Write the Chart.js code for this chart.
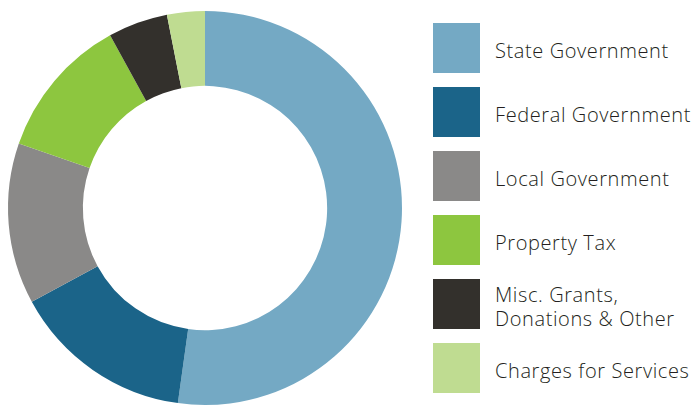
<!DOCTYPE html>
<html>
<head>
<meta charset="utf-8">
<script src="https://cdn.jsdelivr.net/npm/chart.js@4"></script>
<style>
  html, body { margin: 0; padding: 0; background: #fff; }
  #wrap { position: relative; width: 694px; height: 406px; }
  #chartBox { position: absolute; left: 0; top: 0; width: 410px; height: 406px; }
  #legend { position: absolute; left: 433px; top: 23px; font-family: "Open Sans", sans-serif; font-weight: 300; font-size: 20px; letter-spacing: 0.6px; color: #231f20; }
  .item { display: flex; align-items: center; height: 50px; margin-bottom: 14px; }
  .swatch { width: 47px; height: 50px; flex: none; }
  .label { margin-left: 15px; line-height: 24px; white-space: pre; position: relative; top: 3px; }
</style>
</head>
<body>
<div id="wrap">
  <div id="chartBox"><canvas id="revenueChart"></canvas></div>
  <div id="legend"></div>
</div>
<script>
  // Revenue sources, percent of total
  const labels = [
    "State Government",
    "Federal Government",
    "Local Government",
    "Property Tax",
    "Misc. Grants,\nDonations & Other",
    "Charges for Services"
  ];
  const values = [52.2, 14.9, 13.2, 11.7, 4.9, 3.1];
  const colors = ["#74a9c4", "#1b6489", "#8a8988", "#8dc63f", "#33302c", "#bfdc91"];

  // Build the legend from the same arrays
  const legendEl = document.getElementById("legend");
  labels.forEach(function (text, i) {
    const item = document.createElement("div");
    item.className = "item";
    const sw = document.createElement("div");
    sw.className = "swatch";
    sw.style.background = colors[i];
    const lab = document.createElement("div");
    lab.className = "label";
    lab.textContent = text;
    item.appendChild(sw);
    item.appendChild(lab);
    legendEl.appendChild(item);
  });

  const ctx = document.getElementById("revenueChart").getContext("2d");
  new Chart(ctx, {
    type: "doughnut",
    data: {
      labels: labels,
      datasets: [{
        data: values,
        backgroundColor: colors,
        borderWidth: 0
      }]
    },
    options: {
      responsive: true,
      maintainAspectRatio: false,
      animation: false,
      cutout: "62%",
      layout: { padding: { left: 8, right: 8, top: 11, bottom: 1 } },
      plugins: {
        legend: { display: false },
        tooltip: { enabled: false }
      }
    }
  });
</script>
</body>
</html>
